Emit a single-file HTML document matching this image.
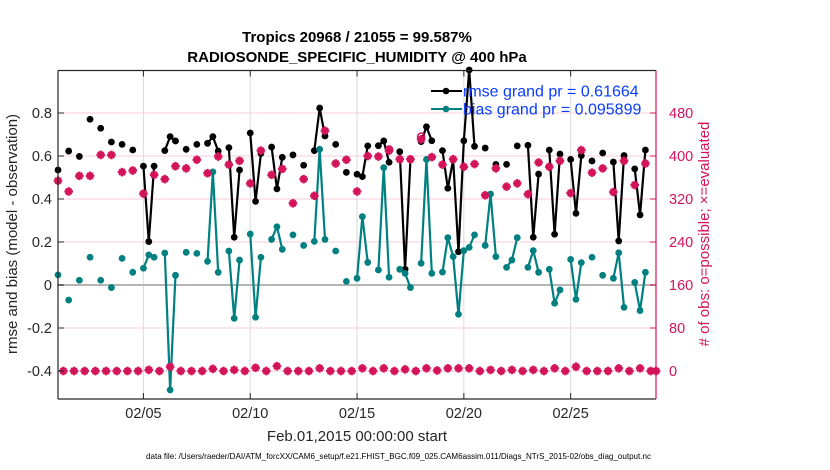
<!DOCTYPE html>
<html><head><meta charset="utf-8"><style>
html,body{margin:0;padding:0;background:#fff;}
svg{display:block;font-family:"Liberation Sans",Arial,sans-serif;}
</style></head><body>
<svg id="chart" width="830" height="470" viewBox="0 0 830 470" xmlns="http://www.w3.org/2000/svg">
<g id="grid"></g>
<g id="series"></g>
<g id="axes"></g>
<text x="357" y="42" font-size="15" font-weight="bold" text-anchor="middle" fill="#000">Tropics 20968 / 21055 = 99.587%</text>
<text x="357" y="62" font-size="15" font-weight="bold" text-anchor="middle" fill="#000">RADIOSONDE_SPECIFIC_HUMIDITY @ 400 hPa</text>
<text transform="translate(17,234) rotate(-90)" font-size="15" text-anchor="middle" fill="#262626">rmse and bias (model - observation)</text>
<text transform="translate(709,234) rotate(-90)" font-size="15" text-anchor="middle" fill="#d4145a"># of obs: o=possible; ×=evaluated</text>
<text x="357" y="441" font-size="15" text-anchor="middle" fill="#262626">Feb.01,2015 00:00:00 start</text>
<text x="146" y="459" font-size="8.5" textLength="505" lengthAdjust="spacingAndGlyphs" fill="#000">data file: /Users/raeder/DAI/ATM_forcXX/CAM6_setup/f.e21.FHIST_BGC.f09_025.CAM6assim.011/Diags_NTrS_2015-02/obs_diag_output.nc</text>
<g>
  <line x1="431" y1="91" x2="462" y2="91" stroke="#000" stroke-width="2"/>
  <circle cx="446" cy="91" r="3.3" fill="#000"/>
  <text x="463" y="96.5" font-size="16" fill="#0a3cff">rmse grand pr = 0.61664</text>
  <line x1="431" y1="109" x2="462" y2="109" stroke="#008080" stroke-width="2"/>
  <circle cx="446" cy="109" r="3.3" fill="#008080"/>
  <text x="463" y="114.5" font-size="16" fill="#0a3cff">bias grand pr = 0.095899</text>
</g>
</svg>
<script>
const rmseDays=[0,0.5,1,1.5,2,2.5,3,3.5,4,4.25,4.5,5,5.25,5.5,6,6.5,7,7.25,7.5,8,8.25,8.5,9,9.25,9.5,10,10.25,10.5,11,11.5,12,12.25,12.5,13,13.5,14,14.25,14.5,15,15.25,15.5,16,16.25,16.5,17,17.25,17.5,18,18.25,18.5,18.75,19,19.25,19.5,20,20.5,21,21.5,22,22.25,22.5,23,23.25,23.5,24,24.25,24.5,25,25.5,26,26.25,26.5,27,27.25,27.5];
const rmseVals=[.535,.623,.598,.771,.729,.665,.654,.628,.553,.202,.553,.625,.690,.670,.631,.654,.659,.690,.623,.639,.222,.535,.707,.389,.612,.642,.447,.594,.605,.557,.625,.823,.693,.654,.524,.515,.504,.647,.648,.670,.571,.620,.073,.584,.667,.736,.671,.625,.450,.583,.155,.671,1.0,.645,.637,.561,.561,.647,.650,.222,.516,.628,.236,.609,.584,.333,.602,.577,.614,.572,.205,.602,.540,.326,.628];
const biasDays=[0,0.5,1,1.5,2,2.5,3,3.5,4,4.25,4.5,5,5.25,5.5,6,6.5,7,7.25,7.5,8,8.25,8.5,9,9.25,9.5,10,10.25,10.5,11,11.5,12,12.25,12.5,13,13.5,14,14.25,14.5,15,15.25,15.5,16,16.25,16.5,17,17.25,17.5,18,18.25,18.5,18.75,19,19.25,19.5,20,20.25,20.5,21,21.25,21.5,22,22.25,22.5,23,23.25,23.5,24,24.25,24.5,25,25.5,26,26.25,26.5,27,27.25,27.5];
const biasVals=[.047,-.070,.022,.129,.022,-.012,.124,.059,.078,.140,.129,.149,-.488,.045,.152,.147,.110,.526,.059,.158,-.155,.116,.237,-.150,.129,.212,.271,.166,.233,.184,.203,.631,.212,.158,.017,.031,.318,.105,.070,.546,.036,.073,.054,-.012,.101,.584,.054,.060,.220,.132,-.136,.160,.175,.233,.184,.423,.132,.082,.116,.220,.082,.160,.059,.073,-.085,-.023,.119,-.067,.104,.129,.045,.031,.150,-.104,.012,-.119,.059];
const evalDays=[0,0.5,1,1.5,2,2.5,3,3.5,4,4.5,5,5.5,6,6.5,7,7.5,8,8.5,9,9.5,10,10.5,11,11.5,12,12.5,13,13.5,14,14.5,15,15.5,16,16.5,17,17.5,18,18.5,19,19.5,20,20.5,21,21.5,22,22.5,23,23.5,24,24.5,25,25.5,26,26.5,27,27.5];
const evalCounts=[354,334,363,363,402,402,370,373,330,365,357,381,377,393,368,399,384,391,349,410,365,376,312,357,326,447,386,393,334,400,399,410,394,394,431,398,384,394,380,385,327,377,343,349,329,388,380,391,331,411,369,377,333,391,346,386];
const possDays=[15.5,17];
const possCounts=[412,436];
const lowDays=[0.25,0.75,1.25,1.75,2.25,2.75,3.25,3.75,4.25,4.75,5.25,5.75,6.25,6.75,7.25,7.75,8.25,8.75,9.25,9.75,10.25,10.75,11.25,11.75,12.25,12.75,13.25,13.75,14.25,14.75,15.25,15.75,16.25,16.75,17.25,17.75,18.25,18.75,19.25,19.75,20.25,20.75,21.25,21.75,22.25,22.75,23.25,23.75,24.25,24.75,25.25,25.75,26.25,26.75,27.25,27.75,28];
const lowCounts=[0,0,0,0,0,0,0,0,2,0,8,0,0,0,4,0,2,0,6,0,9,0,0,0,5,0,0,0,5,0,5,0,3,0,5,1,5,5,5,0,2,0,2,0,2,0,5,0,8,0,0,0,5,0,5,0,0];
const xTickDays=[4,9,14,19,24];
const xTickLabels=["02/05","02/10","02/15","02/20","02/25"];
const yTicks=[-0.4,-0.2,0,0.2,0.4,0.6,0.8];
const yTickLabels=["-0.4","-0.2","0","0.2","0.4","0.6","0.8"];
const rTicks=[0,80,160,240,320,400,480];
const rTickLabels=["0","80","160","240","320","400","480"];

const L=58,R=656,T=70.5,B=399;
const X=d=>L+d*21.36;
const YL=v=>285-v*215;
const YR=r=>371-r*0.5375;
const NS="http://www.w3.org/2000/svg";
const PINK="#d4145a";
function mk(tag,attrs,parent){const e=document.createElementNS(NS,tag);for(const k in attrs)e.setAttribute(k,attrs[k]);parent.appendChild(e);return e;}
const grid=document.getElementById('grid'),ser=document.getElementById('series'),ax=document.getElementById('axes');

rTicks.forEach((r,i)=>{const g=mk('line',{x1:L,x2:R,y1:YR(r),y2:YR(r),stroke:'#f6cdd9','stroke-width':1},grid);

});
xTickDays.forEach(d=>{const g=mk('line',{x1:X(d),x2:X(d),y1:T,y2:B,stroke:'#dcdcdc','stroke-width':1},grid);

});
const z=mk('line',{x1:L,x2:R,y1:YL(0),y2:YL(0),stroke:'#b5b5b5','stroke-width':2},grid);



function drawSeries(days,vals,color,name){
  const g=mk('g',{},ser);
  
  
  for(let i=1;i<days.length;i++){
    if(days[i]-days[i-1]<=0.26){
      const l=mk('line',{x1:X(days[i-1]),y1:YL(vals[i-1]),x2:X(days[i]),y2:YL(vals[i]),stroke:color,'stroke-width':2.2},g);
      
      
    }
  }
  days.forEach((d,i)=>{const c=mk('circle',{cx:X(d),cy:YL(vals[i]),r:3.4,fill:color},g);
    
    });
}
function star(x,y,g,name){
  const s=mk('g',{stroke:PINK,'stroke-width':2.4,'stroke-linecap':'butt'},g);
  
  
  const r=4.3,q=2.9;
  mk('line',{x1:x-r,y1:y,x2:x+r,y2:y},s);
  mk('line',{x1:x,y1:y-r,x2:x,y2:y+r},s);
  mk('line',{x1:x-q,y1:y-q,x2:x+q,y2:y+q},s);
  mk('line',{x1:x-q,y1:y+q,x2:x+q,y2:y-q},s);
  mk('circle',{cx:x,cy:y,r:3.2,fill:PINK,stroke:'none'},s);
}
drawSeries(rmseDays,rmseVals,'#000','rmse-series');
drawSeries(biasDays,biasVals,'#008080','bias-series');
const pg=mk('g',{},ser);


evalDays.forEach((d,i)=>star(X(d),YR(evalCounts[i]),pg,'evaluated-count-marker'));
lowDays.forEach((d,i)=>star(X(d),YR(lowCounts[i]),pg,'low-count-marker'));
possDays.forEach((d,i)=>{const c=mk('circle',{cx:X(d),cy:YR(possCounts[i]),r:3.5,fill:'none',stroke:PINK,'stroke-width':1.5},pg);
  
  });

const frame=mk('path',{d:`M${L},${B}H${R}M${L},${T}H${R}M${L},${T}V${B}`,stroke:'#262626','stroke-width':1.2,fill:'none'},ax);


const rAx=mk('line',{x1:R,x2:R,y1:T,y2:B,stroke:PINK,'stroke-width':1.2},ax);


xTickDays.forEach((d,i)=>{
  mk('line',{x1:X(d),x2:X(d),y1:B,y2:B-6,stroke:'#262626'},ax);
  mk('line',{x1:X(d),x2:X(d),y1:T,y2:T+6,stroke:'#262626'},ax);
  const t=mk('text',{x:X(d),y:418,'font-size':14.5,'text-anchor':'middle',fill:'#262626'},ax);
  t.textContent=xTickLabels[i];
  
  
});
yTicks.forEach((v,i)=>{
  mk('line',{x1:L,x2:L+6,y1:YL(v),y2:YL(v),stroke:'#262626'},ax);
  const t=mk('text',{x:52,y:YL(v)+5,'font-size':14.5,'text-anchor':'end',fill:'#262626'},ax);
  t.textContent=yTickLabels[i];
  
  
});
rTicks.forEach((r,i)=>{
  mk('line',{x1:R,x2:R-6,y1:YR(r),y2:YR(r),stroke:PINK},ax);
  const t=mk('text',{x:669,y:YR(r)+5,'font-size':14.5,'text-anchor':'start',fill:PINK},ax);
  t.textContent=rTickLabels[i];
  
  
});
</script>
</body></html>
